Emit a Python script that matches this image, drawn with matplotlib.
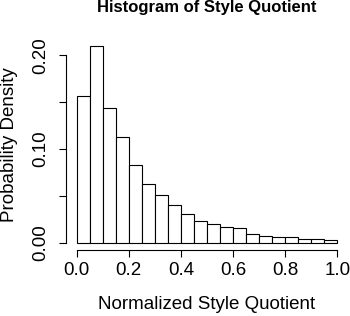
import matplotlib
matplotlib.use("Agg")
import matplotlib.pyplot as plt

plt.rcParams['font.family'] = ['Liberation Sans', 'DejaVu Sans']

# histogram bins (width 0.05) and heights
bin_left = [0.00, 0.05, 0.10, 0.15, 0.20, 0.25, 0.30, 0.35, 0.40, 0.45,
            0.50, 0.55, 0.60, 0.65, 0.70, 0.75, 0.80, 0.85, 0.90, 0.95]
density = [0.157, 0.210, 0.144, 0.113, 0.083, 0.0625, 0.051, 0.040, 0.031, 0.0228,
           0.0193, 0.0161, 0.0153, 0.0096, 0.0075, 0.0064, 0.0054, 0.0043, 0.0043, 0.0025]
bin_width = 0.05

x_ticks = [0.0, 0.2, 0.4, 0.6, 0.8, 1.0]
x_labels = ["0.0", "0.2", "0.4", "0.6", "0.8", "1.0"]
y_ticks = [0.00, 0.05, 0.10, 0.15, 0.20]
y_labels = ["0.00", "", "0.10", "", "0.20"]

fig = plt.figure(figsize=(3.5, 3.16), dpi=100)
ax = fig.add_axes([0.1894, 0.2076, 0.9934 - 0.1894, 0.8791 - 0.2076])

ax.bar(bin_left, density, width=bin_width, align='edge',
       facecolor='white', edgecolor='black', linewidth=0.8)

# R style axes: 4% padding, axis lines only between first and last tick
ax.set_xlim(-0.04, 1.04)
ymax = max(density)
ax.set_ylim(-0.04 * ymax, 1.04 * ymax)
for s in ['top', 'right']:
    ax.spines[s].set_visible(False)
ax.spines['left'].set_bounds(0, 0.20)
ax.spines['bottom'].set_bounds(0, 1.0)
ax.spines['left'].set_linewidth(0.8)
ax.spines['bottom'].set_linewidth(0.8)

ax.set_xticks(x_ticks)
ax.set_xticklabels(x_labels)
ax.set_yticks(y_ticks)
ax.set_yticklabels(y_labels, rotation=90, va='center')
ax.tick_params(axis='both', direction='out', length=5, width=0.8, labelsize=13.5)
ax.tick_params(axis='x', pad=3)
ax.tick_params(axis='y', pad=7)

ax.set_xlabel("Normalized Style Quotient", fontsize=13.5)
ax.xaxis.set_label_coords(0.5, -0.215)
ax.set_ylabel("Probability Density", fontsize=13.5)
ax.yaxis.set_label_coords(-0.17, 0.5)

fig.text(0.59, 0.977, "Histogram of Style Quotient", ha='center', va='center',
         fontsize=12, fontweight='bold')

plt.savefig('out.png', dpi=100)
